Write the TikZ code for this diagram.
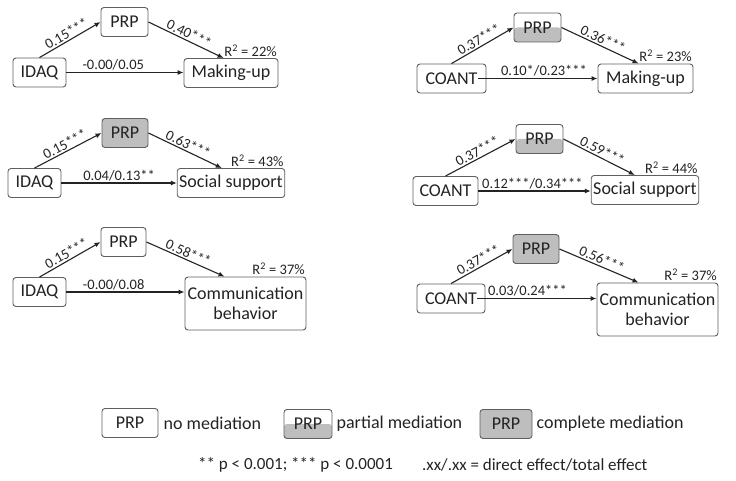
\documentclass[tikz,border=0pt]{standalone}
\usepackage{fontspec}
\setmainfont{Carlito}
\usetikzlibrary{arrows.meta,positioning}

\definecolor{boxline}{RGB}{95,95,95}
\definecolor{prpgray}{RGB}{190,190,190}
\definecolor{ink}{RGB}{35,35,35}

\tikzset{
  var/.style={draw=boxline, line width=0.9pt, rounded corners=3pt, fill=white,
    text=ink, font=\fontsize{18}{20}\selectfont, minimum height=29pt, inner sep=2pt},
  full/.style={var, fill=prpgray},
  half/.style={var, path picture={\fill[prpgray] (path picture bounding box.west)
    rectangle (path picture bounding box.south east);}},
  effect/.style={-{Latex[length=6pt,width=5pt]}, line width=1.1pt, ink},
  coef/.style={text=ink, font=\fontsize{14.5}{16}\selectfont, inner sep=1.5pt},
  keytext/.style={text=ink, font=\fontsize{18}{20}\selectfont, inner sep=3pt},
}

\begin{document}
\begin{tikzpicture}[x=1pt,y=-1pt]
	\useasboundingbox (0,0) rectangle (736,481);

	% IDAQ -> making-up
	\node[var, minimum width=47pt] (prpA) at (124.5,22) {PRP};
	\node[var, minimum width=53pt] (idaqA) at (39.5,72.5) {IDAQ};
	\node[var, minimum width=94pt] (outA) at (231,73) {Making-up};
	\node[coef, anchor=south east] at (outA.north east) {R\textsuperscript{2} = 22\%};
	\draw[effect] (idaqA.north) -- node[coef, sloped, above] {0.15***} (prpA.west);
	\draw[effect] (prpA.east) -- node[coef, sloped, above] {0.40***} ([xshift=40pt]outA.north west);
	\draw[effect] (idaqA.east) -- node[coef, above, pos=0.4] {-0.00/0.05} (idaqA.east -| outA.west);

	% COANT -> making-up
	\node[half, minimum width=47pt] (prpB) at (537.5,27.5) {PRP};
	\node[var, minimum width=69pt] (coantB) at (451.5,78.5) {COANT};
	\node[var, minimum width=95pt] (outB) at (645.5,78.5) {Making-up};
	\node[coef, anchor=south east] at (outB.north east) {R\textsuperscript{2} = 23\%};
	\draw[effect] (coantB.north) -- node[coef, sloped, above] {0.37***} (prpB.west);
	\draw[effect] (prpB.east) -- node[coef, sloped, above] {0.36***} ([xshift=41pt]outB.north west);
	\draw[effect] ([xshift=-8pt]coantB.east) -- node[coef, above, pos=0.55] {0.10*/0.23***} (coantB.east -| outB.west);

	% IDAQ -> social support
	\node[full, minimum width=46pt] (prpC) at (125,133) {PRP};
	\node[var, minimum width=53pt] (idaqC) at (34.5,183) {IDAQ};
	\node[var, minimum width=92pt] (outC) at (231,183) {Social support};
	\node[coef, anchor=south east] at (outC.north east) {R\textsuperscript{2} = 43\%};
	\draw[effect] (idaqC.north) -- node[coef, sloped, above] {0.15***} (prpC.west);
	\draw[effect] (prpC.east) -- node[coef, sloped, above] {0.63***} ([xshift=45pt]outC.north west);
	\draw[effect] (idaqC.east) -- node[coef, above] {0.04/0.13**} (idaqC.east -| outC.west);

	% COANT -> social support
	\node[half, minimum width=47pt] (prpD) at (539.5,139) {PRP};
	\node[var, minimum width=65pt] (coantD) at (445.5,191) {COANT};
	\node[var, minimum width=96pt] (outD) at (645,190) {Social support};
	\node[coef, anchor=south east] at (outD.north east) {R\textsuperscript{2} = 44\%};
	\draw[effect] (coantD.north) -- node[coef, sloped, above] {0.37***} (prpD.west);
	\draw[effect] (prpD.east) -- node[coef, sloped, above] {0.59***} ([xshift=44pt]outD.north west);
	\draw[effect] (coantD.east) -- node[coef, above, pos=0.48] {0.12***/0.34***} (coantD.east -| outD.west);

	% IDAQ -> communication
	\node[var, minimum width=45pt] (prpE) at (123.5,242) {PRP};
	\node[var, minimum width=53pt] (idaqE) at (39.5,292) {IDAQ};
	\node[var, minimum width=121pt, minimum height=53pt, align=center] (outE) at (245.5,303.5) {Communication\\behavior};
	\node[coef, anchor=south east] at (outE.north east) {R\textsuperscript{2} = 37\%};
	\draw[effect] (idaqE.north) -- node[coef, sloped, above] {0.15***} (prpE.west);
	\draw[effect] (prpE.east) -- node[coef, sloped, above] {0.58***} ([xshift=40pt]outE.north west);
	\draw[effect] (idaqE.east) -- node[coef, above, pos=0.4] {-0.00/0.08} (idaqE.east -| outE.west);

	% COANT -> communication
	\node[full, minimum width=46pt] (prpF) at (536,249) {PRP};
	\node[var, minimum width=68pt] (coantF) at (451,298.5) {COANT};
	\node[var, minimum width=121pt, minimum height=53pt, align=center] (outF) at (657.5,309.5) {Communication\\behavior};
	\node[coef, anchor=south east] at (outF.north east) {R\textsuperscript{2} = 37\%};
	\draw[effect] (coantF.north) -- node[coef, sloped, above] {0.37***} (prpF.west);
	\draw[effect] (prpF.east) -- node[coef, sloped, above] {0.56***} ([xshift=42pt]outF.north west);
	\draw[effect] ([xshift=-8pt]coantF.east) -- node[coef, above, pos=0.42] {0.03/0.24***} (coantF.east -| outF.west);

	% key
	\node[var, minimum width=56pt] (keyNone) at (130,423) {PRP};
	\node[keytext, right=2pt of keyNone] {no mediation};
	\node[half, minimum width=48pt] (keyPart) at (308,424) {PRP};
	\node[keytext, right=1pt of keyPart] {partial mediation};
	\node[full, minimum width=52pt] (keyFull) at (506,424) {PRP};
	\node[keytext, right=1pt of keyFull] {complete mediation};
	\node[keytext, anchor=west, font=\fontsize{17}{19}\selectfont] (pvals) at (195,465) {** p < 0.001; *** p < 0.0001};
	\node[keytext, anchor=west, font=\fontsize{17}{19}\selectfont] (legendfx) at (419,465) {.xx/.xx = direct effect/total effect};
\end{tikzpicture}
\end{document}
